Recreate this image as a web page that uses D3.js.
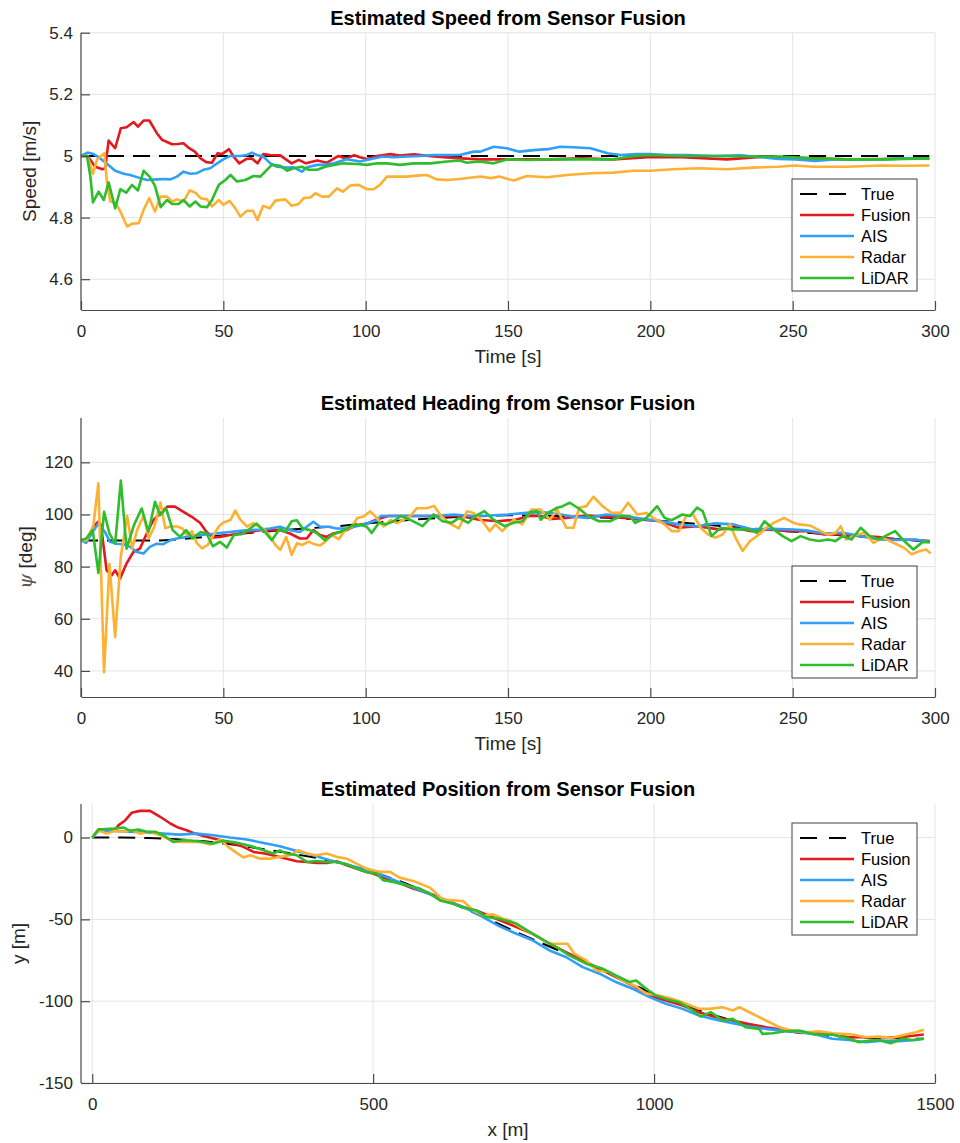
<!DOCTYPE html>
<html>
<head>
<meta charset="utf-8">
<script src="https://cdn.jsdelivr.net/npm/d3@7"></script>
<style>
  body { margin: 0; background: #fff; }
  svg { display: block; font-family: "Liberation Sans", Arial, Helvetica, sans-serif; }
</style>
</head>
<body>
<div id="chart"></div>
<script>
// ---- series names / colours ----
var seriesNames = ["True", "Fusion", "AIS", "Radar", "LiDAR"];
var seriesColors = ["#000000", "#e3191f", "#2f9ff8", "#fdb132", "#2dbd2d"];

// ---- speed [t, m/s] ----
var speedTrue = [[0, 5], [298, 5]];
var speedFusion = [[0,5.0],[2.3,5.0],[5,4.965],[7.5,4.957],[8.5,4.96],[9.7,5.05],[12,5.025],[14,5.09],[16,5.093],[18.5,5.11],[20,5.095],[22,5.115],[24,5.115],[26.7,5.073],[28.5,5.052],[30,5.046],[32,5.038],[34,5.039],[36,5.041],[38,5.025],[40,5.014],[42,4.992],[44,4.98],[46,4.978],[48,5.009],[49.5,5.006],[52,5.022],[53.6,4.998],[55.6,4.976],[58,4.99],[60,4.992],[62,4.976],[64,5.006],[66.5,5.003],[70,5.002],[74,4.976],[76.5,4.987],[79,4.976],[83,4.985],[86.4,4.978],[90.5,5.0],[93,4.992],[96,5.002],[98,4.996],[100.5,4.99],[104,5.0],[108.7,5.006],[112,5.001],[117,5.005],[124,4.998],[132,4.993],[140,4.989],[152,4.989],[164,4.989],[176,4.992],[187,4.989],[199,4.996],[211,4.996],[227,4.989],[240,4.998],[257,4.992],[269,4.989],[281,4.99],[298,4.992]];
var speedAIS = [[0,5.0],[2.3,5.011],[4.4,5.006],[6.8,4.992],[8.9,4.976],[12,4.952],[15,4.942],[17.3,4.938],[20.8,4.928],[23.2,4.922],[26.7,4.924],[29,4.925],[31.4,4.924],[33.7,4.933],[36,4.949],[38.4,4.942],[40.7,4.944],[43,4.955],[45.4,4.96],[47.8,4.976],[50,4.989],[52.5,5.0],[56,5.0],[58.3,5.003],[60,5.011],[61.8,5.003],[64,4.998],[66.5,4.976],[68.9,4.965],[72.4,4.962],[74.7,4.963],[77.6,4.949],[79.4,4.963],[83,4.971],[85.8,4.971],[88.8,4.976],[93.4,4.989],[98,4.982],[101.6,4.989],[106,4.998],[110,4.996],[114.5,4.998],[119,5.0],[124,5.003],[128.6,5.003],[133,5.003],[138,5.014],[140.3,5.014],[145,5.03],[149.6,5.025],[154,5.014],[159,5.019],[164,5.022],[168.4,5.03],[173,5.028],[179,5.025],[185,5.009],[189.5,5.003],[195,5.006],[200,5.006],[206,5.003],[213,5.003],[222,5.0],[231.6,5.002],[240,4.995],[245,4.99],[251,4.989],[258,4.984],[264.4,4.989],[274,4.989],[281,4.989],[290,4.992],[298,4.992]];
var speedRadar = [[0,5.0],[2.3,5.0],[4.2,4.942],[5.6,4.987],[6.8,4.998],[8.2,5.009],[9.1,4.914],[10.3,4.852],[12,4.849],[13.8,4.82],[16.2,4.771],[18,4.78],[20.3,4.782],[22,4.825],[24,4.863],[26,4.82],[27.9,4.868],[30.2,4.868],[32,4.852],[33.7,4.859],[36,4.852],[38.2,4.888],[40.2,4.881],[42,4.863],[44.3,4.859],[46,4.836],[48.4,4.857],[50,4.841],[52.2,4.854],[54.2,4.83],[56,4.803],[58.3,4.822],[60.4,4.822],[62,4.792],[64,4.838],[66.3,4.83],[68.3,4.855],[71.8,4.859],[74,4.838],[76.5,4.844],[78.2,4.863],[80.6,4.865],[82.3,4.879],[84.7,4.868],[87,4.868],[90,4.895],[92,4.884],[94.6,4.904],[97.5,4.906],[100.5,4.892],[102.8,4.892],[105,4.906],[107.5,4.933],[111,4.933],[114.5,4.933],[118,4.936],[121.5,4.938],[125,4.924],[128.6,4.922],[133,4.925],[138,4.931],[140.3,4.933],[144,4.928],[147,4.933],[152,4.92],[156.6,4.935],[163.7,4.931],[170.7,4.938],[179,4.944],[187,4.946],[194,4.952],[200,4.952],[208,4.957],[217,4.96],[227,4.957],[236,4.962],[245,4.965],[251,4.969],[257,4.965],[269,4.965],[281,4.969],[290,4.968],[298,4.969]];
var speedLidar = [[0,5.0],[2.1,5.0],[3.3,4.933],[4.2,4.849],[6.2,4.884],[8,4.857],[9.7,4.914],[12,4.83],[13.8,4.892],[15.9,4.881],[17.9,4.906],[20,4.888],[22,4.952],[24.1,4.933],[26,4.903],[28,4.834],[30.2,4.857],[32,4.844],[34.3,4.844],[36,4.857],[38.2,4.836],[40.2,4.852],[42,4.836],[44.3,4.834],[46,4.857],[48.4,4.906],[50.7,4.922],[52.5,4.938],[54.8,4.917],[57.7,4.922],[60.6,4.935],[63,4.933],[65.3,4.955],[67,4.971],[70,4.968],[72.4,4.952],[74.7,4.96],[77.6,4.965],[80,4.955],[83,4.955],[85.8,4.965],[88.8,4.971],[92.3,4.976],[97,4.974],[100.5,4.971],[104,4.976],[107.5,4.976],[112,4.971],[117,4.976],[122.7,4.976],[128.6,4.982],[133,4.985],[135.6,4.978],[140,4.982],[145,4.976],[150,4.989],[157,4.987],[164,4.989],[175.7,4.989],[187,4.989],[193,4.998],[200,5.003],[211,5.0],[222,5.0],[234,4.998],[245,4.998],[257,4.992],[269,4.989],[281,4.989],[298,4.992]];

// ---- heading [t, deg] ----
var headTrue = [[0,90],[28,90],[35,90.5],[45,91.5],[60,93],[75,94.3],[90,95.5],[105,97],[120,98.3],[135,99.2],[150,99.7],[165,99.5],[180,99],[195,98.2],[210,97],[225,95.6],[240,94.2],[255,93],[270,91.8],[285,90.7],[298,89.6]];
var headFusion = [[0,90.1],[2,90],[4.3,95.3],[6.1,97.2],[7,96],[9,78.6],[10.8,76.7],[12,78.6],[13.7,75.4],[16,81.2],[18.4,85.6],[20.7,86.9],[23.1,92.7],[25.4,97.8],[27.8,100.4],[30.3,103],[33,103],[36,101],[38.9,99.1],[41.8,96.8],[44.1,93.3],[46.5,91.2],[48.8,91.4],[52.3,92.1],[55.9,92.7],[59.4,93.3],[62.9,94],[66.4,94],[69.9,94],[73.4,92.7],[76.9,90.8],[79.3,90.8],[81.6,94],[84,92.1],[86.3,91.4],[88.6,92.7],[91,93.3],[93.3,94],[96.8,95.9],[100.4,96.5],[103.9,98.1],[107.9,99.4],[114.3,99.4],[120.7,99.4],[127,99.4],[133.4,99.4],[139.8,98],[146.2,97.4],[152.6,98],[157.7,99.4],[161.5,99.4],[165.4,98.3],[170.5,98.7],[178.1,99.6],[184.5,99.1],[190.9,98.7],[197.3,98],[203.7,97.4],[210,94.9],[216.4,95.5],[224.1,94.3],[229.2,94.9],[235.6,93.6],[242,94.3],[248.4,93.6],[254.8,93.6],[261.1,92.3],[267.5,92.3],[273.9,91.7],[280.3,91.3],[286.7,90.4],[293.1,90.2],[298.2,89.8]];
var headAIS = [[0,90.1],[1.8,89.1],[4.1,93.3],[6.1,96.5],[8.4,93.3],[10.2,89.5],[12.5,88.8],[14.9,88.6],[17.2,87.6],[19.6,85.6],[21.9,85],[24.2,87.6],[26.6,88.8],[28.9,88.6],[31.3,90.1],[33.6,90.8],[35.9,91.2],[38.3,91.7],[41.8,92.1],[45.3,92.4],[48.8,92.9],[52.3,93.3],[55.9,93.7],[59.4,94],[62.9,94.2],[66.4,94.6],[69.9,95.3],[73.4,94],[76.9,93.3],[81.6,97.2],[84,95.3],[86.9,95.3],[89.8,94.6],[93.3,94.6],[96.8,95.5],[100.4,96.5],[103.9,97.8],[105.3,99.4],[111.7,99.4],[118.1,99.4],[124.5,99.4],[130.9,100],[137.3,99.4],[143.6,99.6],[150,100],[156.4,100.6],[161.5,100.9],[166.6,100.4],[173,99.1],[178.1,98.7],[184.5,100],[190.9,99.4],[197.3,98.3],[203.7,97.4],[210,96.2],[216.4,95.5],[222.8,96.6],[229.2,96.2],[235.6,94.3],[242,94.5],[248.4,94.3],[254.8,93.9],[261.1,92.7],[267.5,93],[273.9,91.7],[280.3,90.4],[286.7,90.2],[293.1,90.4],[298.2,89.4]];
var headRadar = [[0,90.1],[1.8,90],[4.3,95.3],[6.1,112],[8.1,39.5],[10,81],[12,53],[14,84],[16.2,99.5],[18,87],[19.7,94],[20.8,96.7],[22,99.5],[23.8,90.9],[25.8,95.4],[27.9,104.6],[29.6,94.7],[31.4,95.4],[33.7,95.4],[35.5,94.7],[37.2,92.2],[39,93.5],[40.7,89],[42.5,87],[44.5,88.3],[46.6,92.2],[48.4,95.4],[50,96.9],[52.5,97.9],[54.2,101.5],[56,97.9],[58.3,95.4],[60.6,96.7],[62.4,95.4],[64.2,94.4],[66.5,91.5],[68.3,88.3],[70,86.4],[72.1,91.3],[74,84.5],[75.9,89],[77.6,88.3],[80,89.6],[81.7,88.7],[84,88.1],[85.8,89.6],[88.2,92.2],[90.5,90.5],[92.9,94.1],[95.2,95.4],[97,98.6],[99.3,99.2],[101.6,101.2],[104,98.6],[106.3,95.4],[108.7,97.9],[111,96.7],[113.3,97.9],[115.7,99.5],[118,102.4],[121.5,102.4],[124,103.3],[126.2,99.9],[129.2,96.7],[132.7,94.7],[135.6,101.2],[137.9,100.6],[141,97.4],[143.6,93.6],[145.6,96.2],[148,93.6],[152,98],[155,96.2],[158.3,101.9],[161.5,101.9],[164.7,98],[167.3,101.9],[170.5,94.9],[173,94.9],[175,102.6],[177.5,103.2],[180,106.8],[183.2,103.2],[186.4,100.6],[189.6,100.6],[192.2,104.5],[195.4,100],[198.6,100.6],[201,98.7],[205,96.2],[207.5,93.6],[210,93.6],[212.6,99.4],[215,100],[217.7,94.9],[220.3,92.3],[222.8,91.1],[225.4,92.3],[228,96.2],[229.9,91.1],[232.4,86],[235,89.8],[238.2,92.3],[240.7,94.9],[243.3,96.8],[247,98.7],[250.3,96.8],[252.2,96.2],[256,95.8],[259.9,93.6],[262.4,92.3],[265,92.9],[266.9,95.5],[268.8,90.4],[272.6,92.3],[275.2,92.9],[278.4,89.1],[281.6,91.1],[284.1,89.8],[286.7,88.5],[289.2,87.2],[291.8,84.7],[294.3,85.9],[296.9,86.6],[298.5,85]];
var headLidar = [[0,90.1],[1.8,90.8],[4.1,94],[6.1,77.6],[8.1,101],[10,92.7],[12,88.8],[14,113],[16,86.9],[18.6,95.9],[21.3,102.3],[23.7,93.3],[26,104.9],[27.8,99.7],[29.9,102.3],[32.2,94],[34.8,91.4],[36.9,94],[39.2,90.8],[42,93.3],[44.1,92.7],[46.3,87.8],[48.8,89.5],[51.2,87.3],[53.7,92.1],[56.4,92.4],[59.4,94.6],[61.7,96.5],[64.6,93.3],[67,90.1],[69.9,94.6],[71.7,93.3],[74,97.4],[75.8,97.8],[77.9,94.6],[80.4,94],[82.8,92.9],[85.7,90.1],[88.6,92.4],[91,93.3],[93.3,94.6],[95.7,95.9],[98.6,95.9],[100.4,95.3],[102.1,92.9],[104.7,96.8],[107.2,96.2],[109.8,97.4],[112.4,99.4],[115.5,98],[120,95.5],[123.9,100],[127,97.4],[130.2,96.8],[132.8,98.7],[136,96.8],[138.5,99.4],[141.7,101.3],[144.9,98],[148.8,95.5],[152,96.8],[155.1,97.4],[157.7,100.9],[160.2,101.3],[161.5,98],[164,100.6],[167.3,102.6],[169.2,103.2],[171.7,104.5],[175,102.2],[178.1,99.4],[181.9,97.4],[185.8,97.4],[189.6,99.4],[192.8,99.4],[194.7,96.8],[198.6,98.7],[202.4,103.2],[205,98.7],[207.5,97.8],[211.3,100],[213.9,99.4],[216.4,102.6],[218.4,101.3],[221.5,91.7],[224.7,94.9],[227.9,94.3],[231.1,94.3],[234.3,94.3],[237.5,93],[240.1,97.4],[243.3,94.3],[246.5,91.7],[249.6,89.8],[252.8,91.7],[256,90.4],[259.2,89.8],[262.4,90.4],[265,89.8],[267.5,91.7],[270.7,90.4],[273.9,94.9],[277.1,91.7],[280.3,90.4],[283.5,92.3],[286,93.6],[289.2,89.8],[292.4,86.6],[295.6,89.4],[298.2,89.4]];

// ---- position [x m, y m] ----
var posTrue = [[0,0],[50,0],[100,-0.3],[150,-1],[200,-2.3],[250,-4.3],[300,-6.8],[350,-9.5],[400,-12.5],[450,-16.3],[500,-21],[550,-27],[600,-34],[650,-41.5],[700,-49],[750,-57],[800,-64.5],[850,-72],[900,-80],[950,-88],[1000,-95.5],[1050,-102],[1100,-108],[1150,-112.8],[1200,-116.5],[1250,-119],[1300,-120.8],[1350,-122],[1400,-122.6],[1480,-123]];
var posFusion = [[0,0],[11,4.9],[41,4.9],[47,7.6],[59,10.6],[70,15.1],[85,16.3],[103,16.3],[121,12.7],[139,8.6],[153,6.1],[168,4.5],[183,2.4],[198,1],[216,-0.6],[233,-2],[251,-3.7],[269,-5.7],[287,-8.8],[307,-9.8],[328,-11.4],[346,-12.9],[364,-14.5],[382,-14.9],[399,-15.5],[417,-15.5],[435,-14.5],[453,-16.9],[470,-19],[488,-21],[500,-22],[518,-24.5],[541,-27.1],[571,-31.2],[601,-34.3],[630,-38.4],[660,-42.4],[690,-45.5],[719,-49.6],[755,-54.7],[784,-58.8],[814,-64.9],[843,-70],[873,-75.1],[903,-80.2],[932,-85.3],[962,-90.4],[992,-96.5],[1021,-99.6],[1051,-102.6],[1080,-106.7],[1110,-109.8],[1140,-111.8],[1169,-113.9],[1199,-115.9],[1229,-117.5],[1258,-119],[1288,-119.6],[1317,-120.4],[1347,-122],[1377,-122],[1406,-122],[1436,-122],[1465,-121],[1480,-120.4]];
var posAIS = [[0,0],[11,4.1],[38,4.1],[68,3.5],[97,3.1],[127,2.4],[156,1.8],[186,2.4],[216,1.4],[245,0],[275,-1.2],[305,-3.3],[334,-5.3],[364,-8.2],[393,-10.8],[423,-13.9],[453,-16.3],[482,-19.6],[512,-22.4],[541,-26.5],[571,-30.6],[601,-34.7],[630,-38.8],[660,-42.4],[690,-47.6],[725,-54.3],[755,-58.8],[784,-62.8],[814,-69],[843,-73],[873,-79.2],[903,-83.2],[932,-88.3],[962,-92.4],[992,-97.5],[1021,-101.6],[1051,-104.7],[1080,-108.8],[1110,-111.4],[1140,-113.4],[1169,-115.5],[1199,-116.9],[1229,-118],[1258,-119],[1288,-120.4],[1317,-123],[1347,-123.7],[1377,-125.1],[1406,-124.1],[1436,-124.5],[1465,-123.7],[1480,-123]];
var posRadar = [[0,0],[11,4.5],[26,2.4],[41,4.1],[56,3.5],[70,4.5],[85,2.4],[103,3.5],[121,1.4],[139,-1.6],[156,-2.7],[174,-2.7],[192,-2.7],[210,-4.3],[228,-1.2],[242,-5.7],[257,-9.4],[269,-12.2],[281,-10.8],[299,-12.9],[316,-12.9],[334,-11.8],[352,-10.8],[367,-7.8],[382,-9.8],[399,-10.8],[417,-9.8],[435,-11.8],[453,-12.9],[470,-15.9],[488,-19],[512,-21],[530,-21],[547,-24.5],[571,-26.5],[601,-30.6],[624,-37.9],[642,-38.4],[660,-38.8],[678,-44.5],[696,-47.6],[713,-46.9],[731,-49.6],[743,-50.6],[766,-55.7],[790,-59.8],[814,-64.9],[832,-64.9],[846,-64.9],[858,-71],[879,-75.1],[897,-81.2],[920,-82.2],[944,-87.3],[968,-91],[986,-95.5],[1009,-96.5],[1033,-98.6],[1057,-101.6],[1080,-104.7],[1098,-104.7],[1122,-103.7],[1140,-105.7],[1152,-103.7],[1175,-107.7],[1199,-111.8],[1223,-115.9],[1246,-118],[1270,-119],[1294,-118.4],[1317,-119.6],[1335,-120],[1353,-120.4],[1377,-122],[1400,-121.6],[1424,-122.4],[1448,-120.4],[1466,-119],[1480,-117.5]];
var posLidar = [[0,0],[11,4.9],[38,5.5],[56,6.1],[68,4.1],[82,4.9],[97,3.5],[112,3.5],[127,1.4],[144,-2.7],[162,-1.6],[180,-2],[198,-2.7],[216,-3.7],[233,-2],[251,-2.7],[269,-4.1],[287,-5.7],[305,-7.8],[322,-9.8],[334,-7.8],[346,-9.8],[364,-10.8],[382,-14.9],[399,-14.3],[417,-14.9],[435,-14.9],[453,-16.3],[470,-19],[488,-21],[506,-22],[518,-26.1],[536,-27.1],[559,-29.2],[583,-31.2],[601,-34.3],[619,-38.4],[642,-40.4],[660,-42.9],[684,-44.5],[701,-48.6],[725,-49.6],[755,-52.6],[784,-58.8],[802,-62.4],[826,-66.9],[849,-72],[879,-77.1],[909,-80.2],[932,-84.3],[956,-88.3],[968,-87.3],[986,-92.4],[1003,-96.5],[1021,-98.6],[1045,-100.6],[1069,-105.7],[1083,-109.4],[1101,-106.7],[1122,-111.8],[1140,-110.8],[1163,-115.9],[1187,-116.9],[1193,-120],[1211,-119.6],[1234,-118.4],[1258,-118],[1288,-120.4],[1317,-120.4],[1341,-122.4],[1365,-125.1],[1383,-124.1],[1400,-123.7],[1421,-125.7],[1442,-123],[1460,-123.7],[1480,-123]];

// ---- ticks ----
var timeTicks = [0, 50, 100, 150, 200, 250, 300];
var speedTicks = [4.6, 4.8, 5, 5.2, 5.4];
var headTicks = [40, 60, 80, 100, 120];
var posXTicks = [0, 500, 1000, 1500];
var posYTicks = [-150, -100, -50, 0];

var width = 960, height = 1143;
var left = 81, right = 935;
var font = '"Liberation Sans", Arial, Helvetica, sans-serif';

var svg = d3.select("#chart").append("svg")
  .attr("width", width)
  .attr("height", height);

function panel(o) {
  var x = d3.scaleLinear().domain(o.xDomain).range([left, right]);
  var y = d3.scaleLinear().domain(o.yDomain).range([o.bottom, o.top]);
  var g = svg.append("g");

  // grid
  g.append("g").selectAll("line").data(o.xTicks).join("line")
    .attr("x1", d => x(d)).attr("x2", d => x(d))
    .attr("y1", o.top).attr("y2", o.bottom)
    .attr("stroke", "#e4e4e4").attr("stroke-width", 1);
  g.append("g").selectAll("line").data(o.yTicks).join("line")
    .attr("x1", left).attr("x2", right)
    .attr("y1", d => y(d)).attr("y2", d => y(d))
    .attr("stroke", "#e4e4e4").attr("stroke-width", 1);

  // data lines
  var line = d3.line().x(d => x(d[0])).y(d => y(d[1]));
  g.append("g").selectAll("path").data(o.data).join("path")
    .attr("d", line)
    .attr("fill", "none")
    .attr("stroke", (d, i) => seriesColors[i])
    .attr("stroke-width", (d, i) => i === 0 ? 2 : 2.6)
    .attr("stroke-dasharray", (d, i) => i === 0 ? "17,9" : null)
    .attr("stroke-linejoin", "round");

  // axes
  var fmt = d => String(d);
  var xa = g.append("g").attr("transform", "translate(0," + o.bottom + ")")
    .call(d3.axisBottom(x).tickValues(o.xTicks).tickSizeInner(-9).tickSizeOuter(0).tickPadding(15).tickFormat(fmt));
  var ya = g.append("g").attr("transform", "translate(" + left + ",0)")
    .call(d3.axisLeft(y).tickValues(o.yTicks).tickSizeInner(-9).tickSizeOuter(0).tickPadding(8).tickFormat(fmt));
  [xa, ya].forEach(function (a) {
    a.attr("font-family", font).attr("font-size", 17);
    a.select(".domain").attr("stroke", "#4a4a4a").attr("stroke-width", 1.2);
    a.selectAll(".tick line").attr("stroke", "#4a4a4a").attr("stroke-width", 1.2);
    a.selectAll(".tick text").attr("fill", "#262626");
  });
  // left axis covers the whole height
  ya.select(".domain").attr("d", "M0," + o.bottom + "V" + o.top);

  // title
  g.append("text")
    .attr("x", (left + right) / 2).attr("y", o.top - 8)
    .attr("text-anchor", "middle")
    .attr("font-weight", "bold").attr("font-size", 20)
    .attr("fill", "#000")
    .text(o.title);

  // x label
  g.append("text")
    .attr("x", (left + right) / 2).attr("y", o.bottom + 53)
    .attr("text-anchor", "middle").attr("font-size", 19).attr("fill", "#262626")
    .text(o.xLabel);

  // y label
  var yl = g.append("text")
    .attr("transform", "translate(" + o.yLabelX + "," + (o.top + o.bottom) / 2 + ") rotate(-90)")
    .attr("text-anchor", "middle").attr("font-size", 19).attr("fill", "#262626");
  o.yLabel(yl);

  // legend
  var lw = 125, lh = 112;
  var lx = right - 18 - lw;
  var ly = o.legendTop ? o.top + 19 : o.bottom - 19 - lh;
  var lg = g.append("g").attr("transform", "translate(" + lx + "," + ly + ")");
  lg.append("rect").attr("width", lw).attr("height", lh)
    .attr("fill", "#fff").attr("stroke", "#404040").attr("stroke-width", 1);
  var row = lg.selectAll("g").data(seriesNames).join("g")
    .attr("transform", (d, i) => "translate(0," + (15 + i * 21) + ")");
  row.append("line")
    .attr("x1", 8).attr("x2", 62)
    .attr("stroke", (d, i) => seriesColors[i])
    .attr("stroke-width", (d, i) => i === 0 ? 2 : 2.6)
    .attr("stroke-dasharray", (d, i) => i === 0 ? "17,12" : null);
  row.append("text")
    .attr("x", 69).attr("dy", "0.36em")
    .attr("font-size", 16.5).attr("fill", "#000")
    .text(d => d);
}

panel({
  top: 32.7, bottom: 310,
  xDomain: [0, 300], yDomain: [4.5, 5.4],
  xTicks: timeTicks, yTicks: speedTicks,
  data: [speedTrue, speedFusion, speedAIS, speedRadar, speedLidar],
  title: "Estimated Speed from Sensor Fusion",
  xLabel: "Time [s]",
  yLabelX: 36,
  yLabel: t => t.text("Speed [m/s]"),
  legendTop: false
});

panel({
  top: 418, bottom: 697,
  xDomain: [0, 300], yDomain: [30, 137],
  xTicks: timeTicks, yTicks: headTicks,
  data: [headTrue, headFusion, headAIS, headRadar, headLidar],
  title: "Estimated Heading from Sensor Fusion",
  xLabel: "Time [s]",
  yLabelX: 32,
  yLabel: function (t) {
    t.append("tspan").attr("font-family", '"DejaVu Serif", serif').attr("font-style", "italic")
      .attr("fill", "#555").text("ψ");
    t.append("tspan").text(" [deg]");
  },
  legendTop: false
});

panel({
  top: 804, bottom: 1083,
  xDomain: [-20, 1500], yDomain: [-150, 20.5],
  xTicks: posXTicks, yTicks: posYTicks,
  data: [posTrue, posFusion, posAIS, posRadar, posLidar],
  title: "Estimated Position from Sensor Fusion",
  xLabel: "x [m]",
  yLabelX: 25,
  yLabel: t => t.text("y [m]"),
  legendTop: true
});
</script>
</body>
</html>
